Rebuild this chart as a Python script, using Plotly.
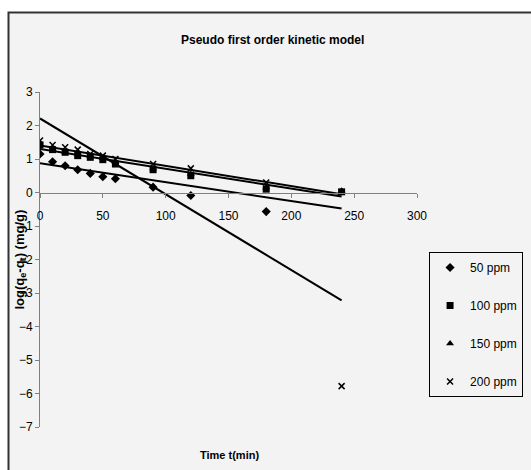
import plotly.graph_objects as go

# ---- data ----
time_min = [0, 10, 20, 30, 40, 50, 60, 90, 120, 180, 240]
ppm50 = [1.15, 0.92, 0.80, 0.68, 0.57, 0.47, 0.41, 0.16, -0.09, -0.57, None]
ppm100 = [1.42, 1.28, 1.20, 1.10, 1.05, 0.98, 0.85, 0.68, 0.50, 0.10, 0.02]
ppm150 = [1.45, 1.30, 1.22, 1.15, 1.08, 1.02, 0.90, 0.72, 0.55, 0.15, 0.05]
ppm200 = [1.55, 1.42, 1.35, 1.28, 1.15, 1.10, 1.00, 0.85, 0.72, 0.30, -5.78]

series_names = ["50 ppm", "100 ppm", "150 ppm", "200 ppm"]
series_values = [ppm50, ppm100, ppm150, ppm200]
series_symbols = ["diamond", "square", "triangle-up", "x-thin"]
series_sizes = [7, 7, 7, 6]

# linear trendlines (start/end values at t = 0 and t = 240)
fit_t = [0, 240]
fit_50 = [0.87, -0.48]
fit_100 = [1.30, -0.12]
fit_150 = [1.40, -0.05]
fit_200 = [2.21, -3.22]
fits = [fit_50, fit_100, fit_150, fit_200]

x_ticks = [0, 50, 100, 150, 200, 250, 300]
y_ticks = [-7, -6, -5, -4, -3, -2, -1, 0, 1, 2, 3]

FONT = "Liberation Sans, Arial, sans-serif"
BG = "#f3f3f3"

fig = go.Figure()

for fv in fits:
    fig.add_trace(go.Scatter(x=fit_t, y=fv, mode="lines",
                             line=dict(color="black", width=2),
                             showlegend=False, hoverinfo="skip"))

for i, (name, vals, sym, sz) in enumerate(zip(series_names, series_values,
                                              series_symbols, series_sizes)):
    marker = dict(symbol=sym, size=sz, color="black",
                  line=dict(color="black", width=1.5 if sym == "x-thin" else 0))
    fig.add_trace(go.Scatter(x=time_min, y=vals, mode="markers", name=name,
                             marker=marker, legendgroup=name))

W, H = 531, 470
L, R, T, B = 40, 6, 92, 43
PLOT_RIGHT = 417  # pixel of x = 300
pw, ph = W - L - R, H - T - B
x_dom_end = (PLOT_RIGHT - L) / pw

def px_x(p):
    return (p - L) / pw

def px_y(p):
    return (H - B - p) / ph

# chart frame
fig.add_shape(type="rect", xref="paper", yref="paper",
              x0=px_x(8.5), x1=px_x(545), y0=px_y(12.5), y1=px_y(485),
              fillcolor=BG, line=dict(color="#333333", width=2), layer="below")

fig.add_annotation(text="<b>Pseudo first order kinetic model</b>", xref="paper", yref="paper",
                   x=px_x(272), y=px_y(40), xanchor="center", yanchor="middle", showarrow=False,
                   font=dict(family=FONT, size=12, color="black"))
fig.add_annotation(text="<b>Time t(min)</b>", xref="paper", yref="paper",
                   x=px_x(229), y=px_y(455), xanchor="center", yanchor="middle", showarrow=False,
                   font=dict(family=FONT, size=11, color="black"))
fig.add_annotation(text="<b>log(q<sub>e</sub>-q<sub>t</sub>) (mg/g)</b>", xref="paper", yref="paper",
                   x=px_x(20), y=0.5, xanchor="center", yanchor="middle", showarrow=False,
                   textangle=-90,
                   font=dict(family=FONT, size=13, color="black"))

fig.update_layout(
    template="none",
    width=W, height=H,
    margin=dict(l=L, r=R, t=T, b=B, pad=0, autoexpand=False),
    paper_bgcolor="white", plot_bgcolor="rgba(0,0,0,0)",
    font=dict(family=FONT, size=12, color="black"),
    xaxis=dict(domain=[0, x_dom_end], range=[0, 300], tickvals=x_ticks,
               ticks="outside", ticklen=4, automargin=False,
               tickcolor="#808080", showline=True, linecolor="#808080", linewidth=1,
               showgrid=False, zeroline=False, anchor="free", position=0.7,
               ticklabelstandoff=8, tickfont=dict(size=12)),
    yaxis=dict(range=[-7, 3], tickvals=y_ticks, ticks="outside", ticklen=4,
               automargin=False,
               tickcolor="#808080", showline=True, linecolor="#808080", linewidth=1,
               showgrid=False, zeroline=False, tickfont=dict(size=12)),
    legend=dict(x=0.996, y=px_y(252), xanchor="right", yanchor="top",
                bgcolor=BG, bordercolor="black", borderwidth=1,
                font=dict(family=FONT, size=12, color="black"),
                traceorder="grouped", tracegroupgap=19, itemwidth=30),
)

fig.write_html("out.html", config={"displayModeBar": False},
               post_script="document.body.style.margin='0';document.body.style.overflow='hidden';")
